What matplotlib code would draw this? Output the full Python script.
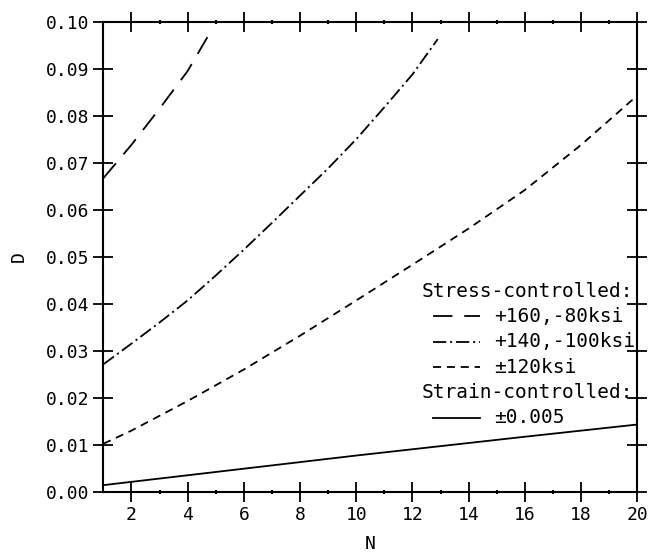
import numpy as np
import matplotlib
matplotlib.use("Agg")
import matplotlib.pyplot as plt
from matplotlib.lines import Line2D

plt.rcParams['lines.scale_dashes'] = False

# damage D vs cycles N
n_160 = [1, 2, 3, 4, 4.8]
d_160 = [0.0667, 0.0738, 0.0815, 0.0895, 0.0977]

n_140 = [1, 2, 3, 4, 5, 6, 7, 8, 9, 10, 11, 12, 12.9]
d_140 = [0.0271, 0.0315, 0.0360, 0.0407, 0.0460, 0.0515, 0.0572, 0.0630, 0.0688, 0.0750, 0.0818, 0.0888, 0.0963]

n_120 = [1, 2, 4, 6, 8, 10, 12, 14, 16, 18, 20]
d_120 = [0.0102, 0.0130, 0.0193, 0.0260, 0.0332, 0.0407, 0.0483, 0.0560, 0.0642, 0.0738, 0.0843]

n_strain = [1, 4, 7, 10, 13, 16, 20]
d_strain = [0.0014, 0.0035, 0.0056, 0.0077, 0.0097, 0.0117, 0.0143]

legend_rows = [
    ("header", "Stress-controlled:"),
    ("long", "+160,-80ksi"),
    ("dashdot", "+140,-100ksi"),
    ("short", "\u00b1120ksi"),
    ("header", "Strain-controlled:"),
    ("solid", "\u00b10.005"),
]

styles = {
    "long": dict(linestyle=(0, (14, 8.5))),
    "dashdot": dict(linestyle=(0, (9.5, 2.8, 1.5, 2.8))),
    "short": dict(linestyle=(0, (5.8, 4.2))),
    "solid": dict(linestyle="-"),
}

mono = "DejaVu Sans Mono"

fig = plt.figure(figsize=(6.51, 5.52), dpi=100, facecolor="white")
ax = fig.add_axes([0.1587, 0.1092, 0.979 - 0.1587, 0.9607 - 0.1092])

lw = 1.3
ax.plot(n_160, d_160, color="black", lw=lw, **styles["long"])
ax.plot(n_140, d_140, color="black", lw=lw, **styles["dashdot"])
ax.plot(n_120, d_120, color="black", lw=lw, **styles["short"])
ax.plot(n_strain, d_strain, color="black", lw=lw, **styles["solid"])

ax.set_xlim(1, 20)
ax.set_ylim(0, 0.10)
ax.set_xticks(np.arange(2, 21, 2))
ax.set_xticks(np.arange(3, 20, 2), minor=True)
ax.set_yticks(np.arange(0, 0.1001, 0.01))
ax.set_yticklabels(["{:.2f}".format(v) for v in np.arange(0, 0.1001, 0.01)])

for s in ax.spines.values():
    s.set_linewidth(1.5)
ax.tick_params(which="major", direction="inout", length=14, width=1.3,
               top=True, right=True, labelsize=13, pad=3)
ax.tick_params(which="minor", direction="inout", length=3.5, width=1.5,
               top=True, right=True)
for lab in ax.get_xticklabels() + ax.get_yticklabels():
    lab.set_family(mono)

ax.set_xlabel("N", fontsize=13, family=mono, labelpad=8)
ax.set_ylabel("D", fontsize=13, family=mono, labelpad=13)

# legend drawn by hand to match the plotter layout
y0 = 0.4266
dy = 0.0538
for i, (kind, label) in enumerate(legend_rows):
    y = y0 - i * dy
    if kind == "header":
        ax.text(0.597, y, label, transform=ax.transAxes, fontsize=14,
                family=mono, va="center", ha="left")
    else:
        ax.add_line(Line2D([0.617, 0.706], [y, y], transform=ax.transAxes,
                           color="black", lw=lw, **styles[kind]))
        ax.text(0.7316, y, label, transform=ax.transAxes, fontsize=14,
                family=mono, va="center", ha="left")

fig.savefig("out.png", dpi=100, facecolor="white")
